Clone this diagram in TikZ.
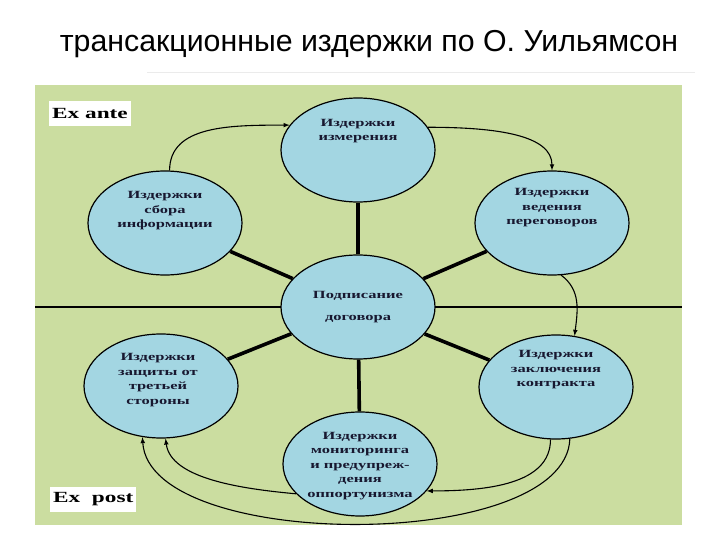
\documentclass[tikz,border=0pt]{standalone}
\usepackage{fontspec}
\setmainfont{Liberation Serif}
\newfontfamily\titlefont{Liberation Sans}
\newfontfamily\widefont[FakeStretch=1.5]{Liberation Serif}
\usetikzlibrary{arrows,shapes.geometric}

\definecolor{panelgreen}{RGB}{203,221,160}
\definecolor{ellblue}{RGB}{163,214,226}
\definecolor{inkdark}{RGB}{24,24,48}

\tikzset{
    cost/.style={ellipse,draw=black,line width=1.2pt,fill=ellblue,
        minimum width=154pt,minimum height=104pt,inner sep=0pt},
    costtext/.style={align=center,text=inkdark,inner sep=0pt,
        font=\widefont\bfseries\fontsize{11}{14.5}\selectfont},
    spoke/.style={line width=3.6pt,black},
    flow/.style={-latex,line width=1.1pt,black},
    phase/.style={fill=white,inner xsep=3pt,inner ysep=0pt,minimum height=25pt,
        anchor=west,font=\widefont\bfseries\fontsize{15.5}{18}\selectfont},
}

\begin{document}
\begin{tikzpicture}[x=1pt,y=-1pt]
\fill[white] (0,0) rectangle (720,540);
\useasboundingbox (0,0) rectangle (720,540);

\node[font=\titlefont\fontsize{30.3}{34}\selectfont,anchor=base] (title) at (369,52)
    {трансакционные издержки по О. Уильямсон};
\draw[black!8,line width=1pt] (147,73) -- (695,73);

% panel with the two phases
\fill[panelgreen] (35,85) rectangle (682,525);
\draw[line width=1.8pt] (35,307) -- (682,307);
\node[phase] (exante) at (49,113.5) {Ex ante};
\node[phase] (expost) at (50,499.5) {Ex~~post};

\foreach \nm/\x/\y in {meas/358/150, info/165/223, nego/552/223, sign/358/307,
        protect/161/386, contract/556/387, monit/360/464}
    \node[cost] (\nm) at (\x,\y) {};

\foreach \nm in {meas,info,nego,protect,contract,monit}
    \draw[spoke] (sign) -- (\nm);

\node[costtext] (meas-t) at (358,131) {Издержки\\измерения};
\node[costtext] (info-t) at (165,211) {Издержки\\сбора\\информации};
\node[costtext] (nego-t) at (552,208) {Издержки\\ведения\\переговоров};
\node[costtext] (sign-t) at (358,307) {Подписание\\[7pt]договора};
\node[costtext] (protect-t) at (158,380) {Издержки\\защиты от\\третьей\\стороны};
\node[costtext] (contract-t) at (556,370) {Издержки\\заключения\\контракта};
\node[costtext] (monit-t) at (360,466) {Издержки\\мониторинга\\и предупреж-\\дения\\оппортунизма};

% sequence of costs
\draw[flow] (info.85) .. controls +(0,-45) and +(-60,0) .. (meas.160);
\draw[flow] (meas.18) .. controls +(70,0) and +(0,-35) .. (nego.north);
\draw[flow] (nego.-80) .. controls +(20,15) and +(3,-25) .. (contract.70);
\draw[flow] (contract.-96) .. controls +(0,45) and +(60,0) .. (monit.-22);
\draw[flow] (contract.-75) .. controls +(-4,114) and +(7,115) .. (protect.-110);
\draw[flow] (monit.-155) .. controls +(-55,-5) and +(5,40) .. (protect.-85);
\end{tikzpicture}
\end{document}
